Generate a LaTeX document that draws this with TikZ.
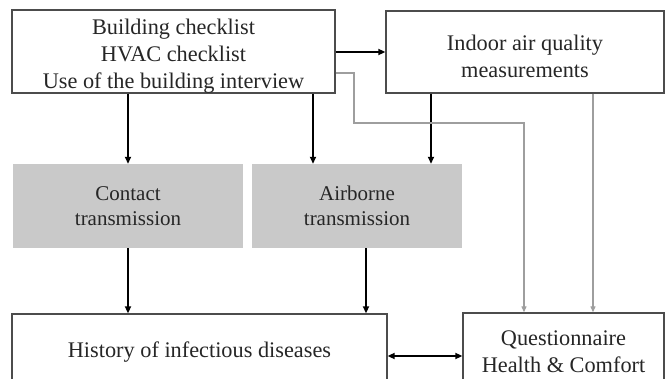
\documentclass[tikz,border=0pt]{standalone}
\usepackage{fontspec}
\setmainfont{Liberation Serif}
\usetikzlibrary{arrows.meta}
\begin{document}
\begin{tikzpicture}[x=1pt,y=-1pt,
  box/.style={draw=black!70,line width=1.3pt,fill=white,inner sep=0pt,align=center,
    font=\fontsize{22.3}{27}\selectfont,text=black!85},
  graybox/.style={fill=black!21,inner sep=0pt,align=center,
    font=\fontsize{21}{25}\selectfont,text=black!85},
  arr/.style={line width=1.6pt,-{Triangle[length=7pt,width=6pt]}},
  darr/.style={line width=1.6pt,{Triangle[length=7pt,width=6pt]}-{Triangle[length=7pt,width=6pt]}},
  garr/.style={draw=black!38,line width=1.1pt,-{Triangle[length=6pt,width=5pt]}}]
\useasboundingbox (0,0) rectangle (667,379);
\clip (0,0) rectangle (667,379);
\node[box,minimum width=323pt,minimum height=83pt] (tl) at (173.5,51.5)
  {\rule{0pt}{24pt}Building checklist\\HVAC checklist\\Use of the building interview};
\node[box,minimum width=278pt,minimum height=82pt] (iaq) at (525,52)
  {\rule{0pt}{24pt}Indoor air quality\\measurements};
\node[graybox,minimum width=230pt,minimum height=84pt] (ct) at (128,206)
  {Contact\\transmission};
\node[graybox,minimum width=210pt,minimum height=84pt] (ab) at (357,206)
  {Airborne\\transmission};
\node[box,minimum width=375pt,minimum height=76pt] (hi) at (199.5,352)
  {History of infectious diseases};
\node[box,minimum width=201pt,minimum height=78pt] (qu) at (563.5,352)
  {Questionnaire\\Health \& Comfort};
\coordinate (g1) at (354,73);
\coordinate (g2) at (354,123);
\coordinate (g3) at (524,123);
\draw[arr] (tl.east |- 0,52) -- (iaq.west |- 0,52);
\draw[arr] (tl.south -| 128,0) -- (ct.north -| 128,0);
\draw[arr] (tl.south -| 313,0) -- (ab.north -| 313,0);
\draw[arr] (iaq.south -| 431,0) -- (ab.north -| 431,0);
\draw[arr] (ct.south -| 128,0) -- (hi.north -| 128,0);
\draw[arr] (ab.south -| 366,0) -- (hi.north -| 366,0);
\draw[garr] (tl.east |- g1) -- (g1) -- (g2) -- (g3) -- (qu.north -| g3);
\draw[garr] (iaq.south -| 593,0) -- (qu.north -| 593,0);
\draw[darr] (hi.east |- 0,356) -- (qu.west |- 0,356);
\end{tikzpicture}
\end{document}
